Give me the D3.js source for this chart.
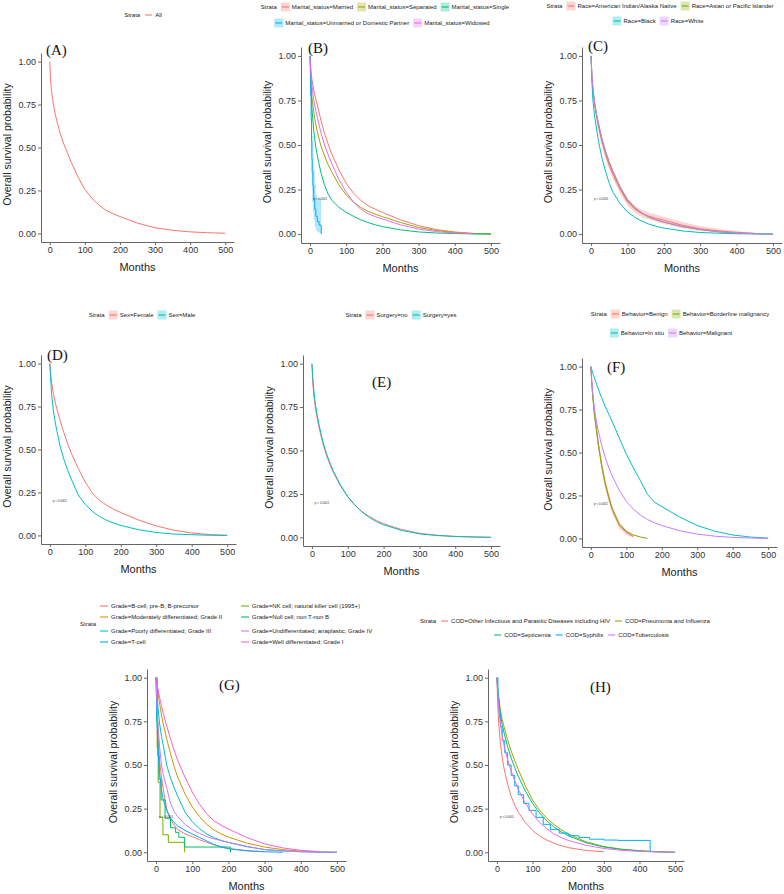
<!DOCTYPE html>
<html>
<head>
<meta charset="utf-8">
<script src="https://cdn.jsdelivr.net/npm/d3@7"></script>
<style>
  body { margin: 0; background: #fff; }
  svg { display: block; }
  text { font-family: "Liberation Sans", Arial, sans-serif; }
</style>
</head>
<body>
<svg id="fig" width="784" height="894"></svg>
<script>
// shared month grid for the smooth KM curves
var t = [0, 2, 5, 10, 15, 20, 30, 40, 50, 60, 80, 100, 120, 140, 160, 180, 200, 250, 300, 350, 400, 450, 500];
var xTicks = [0, 100, 200, 300, 400, 500];
var yTicks = [0, 0.25, 0.5, 0.75, 1];
var pText = "p < 0.0001";

// (A) all
var allS = [1,0.9,0.83,0.755,0.7,0.655,0.58,0.52,0.47,0.42,0.33,0.255,0.205,0.165,0.135,0.115,0.098,0.06,0.033,0.018,0.009,0.004,0.001];

// (B) marital status
var bMarried   = [1,0.93,0.87,0.81,0.765,0.725,0.64,0.565,0.505,0.45,0.36,0.285,0.23,0.19,0.16,0.14,0.122,0.08,0.047,0.025,0.012,0.004,0.001];
var bSeparated = [1,0.88,0.77,0.69,0.625,0.575,0.495,0.44,0.39,0.35,0.275,0.22,0.18,0.15,0.128,0.112,0.098,0.065,0.037,0.02,0.009,0.003,0.001];
var bSingle    = [1,0.83,0.71,0.585,0.5,0.44,0.345,0.275,0.225,0.19,0.15,0.122,0.1,0.08,0.065,0.052,0.042,0.024,0.012,0.006,0.003,0.001,0];
var bWidowed   = [1,0.91,0.84,0.755,0.7,0.655,0.57,0.5,0.445,0.395,0.305,0.235,0.18,0.14,0.115,0.098,0.085,0.052,0.028,0.014,0.006,0.002];
var bUnmM  = [0,1,2,3,4,5,6,8,10,13,16,20,25,31];
var bUnmS  = [1,0.9,0.78,0.65,0.52,0.42,0.35,0.27,0.2,0.14,0.1,0.07,0.05,0];
var bUnmLo = [1,0.8,0.62,0.46,0.33,0.24,0.18,0.12,0.08,0.04,0.02,0.01,0.005,0.005];
var bUnmHi = [1,0.97,0.9,0.82,0.72,0.62,0.55,0.45,0.36,0.28,0.22,0.2,0.2,0.2];

// (C) race
var cAIAN   = [1,0.89,0.81,0.725,0.66,0.605,0.515,0.445,0.385,0.335,0.25,0.18,0.14,0.115,0.1,0.088,0.078,0.05,0.03,0.018,0.01,0.004];
var cAIANLo = [1,0.87,0.785,0.7,0.635,0.58,0.49,0.42,0.36,0.31,0.228,0.16,0.12,0.095,0.08,0.068,0.058,0.034,0.018,0.009,0.004,0.001];
var cAIANHi = [1,0.91,0.835,0.75,0.685,0.63,0.54,0.47,0.41,0.36,0.272,0.2,0.16,0.135,0.12,0.108,0.098,0.068,0.045,0.03,0.018,0.009];
var cAsian  = [1,0.9,0.815,0.73,0.67,0.62,0.53,0.46,0.4,0.35,0.26,0.19,0.147,0.116,0.094,0.079,0.067,0.042,0.025,0.013,0.005,0.002,0];
var cBlack  = [1,0.87,0.75,0.655,0.59,0.525,0.425,0.35,0.285,0.235,0.17,0.125,0.095,0.072,0.055,0.043,0.034,0.018,0.009,0.005,0.002,0.001,0];
var cWhite  = [1,0.9,0.82,0.735,0.675,0.625,0.535,0.465,0.405,0.355,0.265,0.195,0.15,0.118,0.096,0.08,0.068,0.043,0.026,0.014,0.006,0.002,0];

// (D) sex
var dFemale = [1,0.95,0.89,0.825,0.775,0.735,0.66,0.595,0.535,0.48,0.39,0.31,0.245,0.205,0.175,0.152,0.133,0.09,0.055,0.03,0.014,0.005,0.001];
var dMale   = [1,0.92,0.82,0.725,0.66,0.605,0.51,0.44,0.38,0.33,0.235,0.18,0.14,0.11,0.088,0.072,0.058,0.033,0.017,0.008,0.004,0.001,0];

// (E) surgery
var eNo  = [1,0.9,0.82,0.74,0.68,0.63,0.545,0.475,0.42,0.372,0.295,0.232,0.185,0.148,0.12,0.097,0.078,0.045,0.023,0.012,0.005,0.002,0];
var eYes = [1,0.93,0.85,0.76,0.7,0.645,0.555,0.485,0.43,0.38,0.3,0.235,0.185,0.145,0.115,0.09,0.072,0.04,0.02,0.01,0.005,0.002,0];

// (F) behavior
var fBenign   = [1,0.93,0.84,0.73,0.65,0.565,0.43,0.32,0.24,0.17,0.075,0.035,0.01];
var fBenignLo = [1,0.91,0.81,0.7,0.615,0.53,0.395,0.29,0.21,0.145,0.058,0.022,0.003];
var fBenignHi = [1,0.95,0.87,0.76,0.685,0.6,0.465,0.35,0.27,0.195,0.093,0.05,0.02];
var fBorder   = [1,0.92,0.83,0.72,0.64,0.56,0.43,0.33,0.245,0.175,0.085,0.04,0.02,0.008,0];
var fInSitu   = [1,0.985,0.965,0.935,0.905,0.875,0.82,0.77,0.725,0.68,0.585,0.49,0.41,0.335,0.255,0.21,0.185,0.125,0.075,0.042,0.02,0.008,0.002];
var fMalig    = [1,0.93,0.85,0.755,0.69,0.635,0.545,0.475,0.415,0.365,0.28,0.215,0.17,0.135,0.11,0.09,0.075,0.045,0.025,0.013,0.006,0.002,0];

// (G) grade
var gBcell    = [1,0.83,0.68,0.52,0.43,0.36,0.245,0.19,0.155,0.13,0.105,0.09,0.072,0.057,0.043,0.032,0.022,0.01,0.003];
var gModerate = [1,0.96,0.92,0.85,0.785,0.735,0.645,0.565,0.49,0.43,0.335,0.26,0.205,0.16,0.128,0.105,0.087,0.053,0.03,0.015,0.007,0.002,0];
var gNkM = [0,3,6,11,19,34,79];
var gNkS = [1,0.6,0.4,0.2,0.1,0.057,0];
var gNullM = [0,2,5,8,14,25,40,54,63,79,206];
var gNullS = [1,0.75,0.55,0.42,0.3,0.195,0.14,0.114,0.086,0.03,0];
var gPoorly   = [1,0.93,0.84,0.735,0.665,0.61,0.495,0.425,0.37,0.32,0.23,0.175,0.135,0.105,0.083,0.068,0.056,0.032,0.016,0.008,0.003,0.001,0];
var gTcell    = [1,0.8,0.62,0.45,0.36,0.3,0.235,0.195,0.17,0.15,0.125,0.105,0.085,0.065,0.045,0.03,0.02,0.008,0.003,0];
var gUndiff   = [1,0.88,0.74,0.6,0.5,0.445,0.365,0.28,0.235,0.205,0.16,0.13,0.108,0.09,0.077,0.066,0.057,0.035,0.015,0.007,0.003,0.001,0];
var gWell     = [1,0.97,0.94,0.885,0.84,0.795,0.72,0.65,0.585,0.525,0.43,0.345,0.275,0.22,0.18,0.155,0.133,0.085,0.048,0.025,0.011,0.004];

// (H) cause of death
var hOther = [1,0.86,0.74,0.62,0.54,0.48,0.39,0.32,0.27,0.23,0.17,0.125,0.093,0.07,0.052,0.038,0.027,0.01,0.003];
var hPneu  = [1,0.95,0.89,0.81,0.76,0.72,0.645,0.58,0.525,0.475,0.38,0.3,0.24,0.195,0.16,0.13,0.105,0.06,0.033,0.018,0.009,0.003,0];
var hSepti = [1,0.94,0.87,0.785,0.73,0.685,0.605,0.54,0.485,0.435,0.35,0.28,0.225,0.18,0.145,0.118,0.095,0.055,0.03,0.016,0.008,0.003,0];
var hSyphM = [0,3,6,10,15,22,30,40,50,60,75,90,110,130,150,175,200,230,260,300,340,430];
var hSyphS = [1,0.88,0.8,0.72,0.64,0.57,0.5,0.44,0.38,0.33,0.28,0.24,0.2,0.16,0.13,0.11,0.095,0.085,0.075,0.07,0.068,0];
var hTuber = [1,0.92,0.83,0.73,0.665,0.61,0.53,0.465,0.41,0.36,0.28,0.22,0.17,0.135,0.105,0.085,0.068,0.04,0.022,0.011,0.005,0.002,0];

var panels = [
  {lab: "(A)", lx: 46, ly: 55, box: [41, 234, 53, 242], pval: false,
   series: [{name: "All", color: "#F8766D", s: allS}]},
  {lab: "(B)", lx: 308, ly: 53, box: [301, 500, 47, 243], pval: true,
   series: [
     {name: "Marital_status=Married", color: "#F8766D", s: bMarried},
     {name: "Marital_status=Separated", color: "#A3A500", s: bSeparated},
     {name: "Marital_status=Single", color: "#00BF7D", s: bSingle},
     {name: "Marital_status=Unmarried or Domestic Partner", color: "#00B0F6", m: bUnmM, s: bUnmS, lo: bUnmLo, hi: bUnmHi, step: true},
     {name: "Marital_status=Widowed", color: "#E76BF3", s: bWidowed}]},
  {lab: "(C)", lx: 588, ly: 51, box: [582, 782, 47, 243], pval: true,
   series: [
     {name: "Race=American Indian/Alaska Native", color: "#F8766D", s: cAIAN, lo: cAIANLo, hi: cAIANHi},
     {name: "Race=Asian or Pacific Islander", color: "#7CAE00", s: cAsian},
     {name: "Race=Black", color: "#00BFC4", s: cBlack},
     {name: "Race=White", color: "#C77CFF", s: cWhite}]},
  {lab: "(D)", lx: 47, ly: 360, box: [41, 236, 355, 544], pval: true,
   series: [
     {name: "Sex=Female", color: "#F8766D", s: dFemale},
     {name: "Sex=Male", color: "#00BFC4", s: dMale}]},
  {lab: "(E)", lx: 372, ly: 387, box: [303, 500, 355, 546], pval: true,
   series: [
     {name: "Surgery=no", color: "#F8766D", s: eNo},
     {name: "Surgery=yes", color: "#00BFC4", s: eYes}]},
  {lab: "(F)", lx: 607, ly: 372, box: [582, 777, 358, 547], pval: true,
   series: [
     {name: "Behavior=Benign", color: "#F8766D", s: fBenign, lo: fBenignLo, hi: fBenignHi},
     {name: "Behavior=Borderline malignancy", color: "#7CAE00", s: fBorder},
     {name: "Behavior=In situ", color: "#00BFC4", s: fInSitu},
     {name: "Behavior=Malignant", color: "#C77CFF", s: fMalig}]},
  {lab: "(G)", lx: 219, ly: 690, box: [147, 346, 669, 861], pval: true,
   series: [
     {name: "Grade=B-cell; pre-B; B-precursor", color: "#F8766D", s: gBcell},
     {name: "Grade=Moderately differentiated; Grade II", color: "#CD9600", s: gModerate},
     {name: "Grade=NK cell; natural killer cell (1995+)", color: "#7CAE00", m: gNkM, s: gNkS, step: true},
     {name: "Grade=Null cell; non T-non B", color: "#00BE67", m: gNullM, s: gNullS, step: true},
     {name: "Grade=Poorly differentiated; Grade III", color: "#00BFC4", s: gPoorly},
     {name: "Grade=T-cell", color: "#00A9FF", s: gTcell},
     {name: "Grade=Undifferentiated; anaplastic; Grade IV", color: "#C77CFF", s: gUndiff},
     {name: "Grade=Well differentiated; Grade I", color: "#FF61CC", s: gWell}]},
  {lab: "(H)", lx: 590, ly: 692, box: [488, 684, 669, 861], pval: true,
   series: [
     {name: "COD=Other Infectious and Parasitic Diseases including HIV", color: "#F8766D", s: hOther},
     {name: "COD=Pneumonia and Influenza", color: "#A3A500", s: hPneu},
     {name: "COD=Septicemia", color: "#00BF7D", s: hSepti},
     {name: "COD=Syphilis", color: "#00B0F6", m: hSyphM, s: hSyphS, step: true},
     {name: "COD=Tuberculosis", color: "#E76BF3", s: hTuber}]}
];

var svg = d3.select("#fig");

function drawPanel(p) {
  var x = d3.scaleLinear().domain([-25, 525]).range([p.box[0], p.box[1]]);
  var y = d3.scaleLinear().domain([-0.05, 1.05]).range([p.box[3], p.box[2]]);
  var g = svg.append("g");

  // confidence ribbons
  p.series.forEach(function (s) {
    if (!s.lo) return;
    var m = s.m || t;
    var pts = s.lo.map(function (v, i) { return {m: m[i], lo: v, hi: s.hi[i]}; });
    g.append("path").datum(pts)
      .attr("fill", s.color).attr("fill-opacity", 0.3)
      .attr("d", d3.area()
        .curve(s.step ? d3.curveStepAfter : d3.curveLinear)
        .x(function (d) { return x(d.m); })
        .y0(function (d) { return y(d.lo); })
        .y1(function (d) { return y(d.hi); }));
  });

  // survival curves
  p.series.forEach(function (s) {
    var m = s.m || t;
    var pts = s.s.map(function (v, i) { return [m[i], v]; });
    g.append("path").datum(pts)
      .attr("fill", "none").attr("stroke", s.color).attr("stroke-width", 1)
      .attr("d", d3.line()
        .curve(s.step ? d3.curveStepAfter : d3.curveLinear)
        .x(function (d) { return x(d[0]); })
        .y(function (d) { return y(d[1]); }));
  });

  //x-axis
  var xa = g.append("g").attr("transform", "translate(0," + p.box[3] + ")")
    .call(d3.axisBottom(x).tickValues(xTicks).tickSize(3).tickSizeOuter(0).tickPadding(2));
  //y-axis
  var ya = g.append("g").attr("transform", "translate(" + p.box[0] + ",0)")
    .call(d3.axisLeft(y).tickValues(yTicks).tickFormat(d3.format(".2f")).tickSize(3).tickSizeOuter(0).tickPadding(2));
  [xa, ya].forEach(function (a) {
    a.attr("font-family", null).attr("font-size", null);
    a.select(".domain").attr("stroke", "#666").attr("stroke-width", 1);
    a.selectAll(".tick line").attr("stroke", "#666");
    a.selectAll(".tick text").attr("fill", "#333").style("font-size", "9px");
  });

  var cx = (p.box[0] + p.box[1]) / 2, cy = (p.box[2] + p.box[3]) / 2;
  g.append("text").attr("x", cx).attr("y", p.box[3] + 29)
    .attr("text-anchor", "middle").style("font-size", "11px").attr("fill", "#222").text("Months");
  g.append("text").attr("transform", "translate(" + (p.box[0] - 30) + "," + (cy - 3) + ")rotate(-90)")
    .attr("text-anchor", "middle").style("font-size", "10.5px").attr("fill", "#222")
    .text("Overall survival probability");

  if (p.pval) {
    g.append("text").attr("x", x(8)).attr("y", y(0.2)).attr("dy", "0.35em")
      .style("font-size", "3px").attr("fill", "#333").text(pText);
  }

  g.append("text").attr("x", p.lx).attr("y", p.ly)
    .style("font-family", "'Liberation Serif', 'Times New Roman', serif")
    .style("font-size", "15px").attr("fill", "#111").text(p.lab);
}

panels.forEach(drawPanel);

// legends: centered rows, "Strata" before the first row
function rowLegend(items, rows, cxs, ys, boxed) {
  rows.forEach(function (idx, r) {
    var row = svg.append("g");
    var cur = 0;
    if (r === 0) {
      var tt = row.append("text").attr("x", 0).attr("dy", "0.35em")
        .style("font-size", "6px").attr("fill", "#222").text("Strata");
      cur += tt.node().getComputedTextLength() + 4;
    }
    idx.forEach(function (i) {
      var it = items[i];
      if (boxed) {
        row.append("rect").attr("x", cur).attr("y", -4.5).attr("width", 9).attr("height", 9)
          .attr("fill", it.color).attr("fill-opacity", 0.3);
      }
      row.append("line").attr("x1", cur + 1).attr("x2", cur + 8).attr("y1", 0).attr("y2", 0)
        .attr("stroke", it.color).attr("stroke-width", 1.1);
      var tx = row.append("text").attr("x", cur + 11).attr("dy", "0.35em")
        .style("font-size", "6px").attr("fill", "#222").text(it.name);
      cur += 11 + tx.node().getComputedTextLength() + 4;
    });
    cur -= 4;
    row.attr("transform", "translate(" + (cxs[r] - cur / 2) + "," + ys[r] + ")");
  });
}

rowLegend(panels[0].series, [[0]], [143], [15], false);
rowLegend(panels[1].series, [[0, 1, 2], [3, 4]], [385, 382], [7, 23], true);
rowLegend(panels[2].series, [[0, 1], [2, 3]], [660, 658], [6, 21], true);
rowLegend(panels[3].series, [[0, 1]], [142], [315], true);
rowLegend(panels[4].series, [[0, 1]], [401], [315], true);
rowLegend(panels[5].series, [[0, 1], [2, 3]], [680, 671], [314, 333], true);
rowLegend(panels[7].series, [[0, 1], [2, 3, 4]], [565, 581], [621, 635], false);

// (G) legend is a 4 x 2 grid
var gLeg = svg.append("g");
gLeg.append("text").attr("x", 80).attr("y", 624).attr("dy", "0.35em")
  .style("font-size", "6px").attr("fill", "#222").text("Strata");
var gCols = [[0, 1, 4, 5], [2, 3, 6, 7]];
var gColX = [100, 241];
var gRowY = [606, 617, 631, 642];
gCols.forEach(function (col, c) {
  col.forEach(function (i, r) {
    var it = panels[6].series[i];
    gLeg.append("line").attr("x1", gColX[c]).attr("x2", gColX[c] + 8)
      .attr("y1", gRowY[r]).attr("y2", gRowY[r]).attr("stroke", it.color).attr("stroke-width", 1.1);
    gLeg.append("text").attr("x", gColX[c] + 11).attr("y", gRowY[r]).attr("dy", "0.35em")
      .style("font-size", "6px").attr("fill", "#222").text(it.name);
  });
});
</script>
</body>
</html>
